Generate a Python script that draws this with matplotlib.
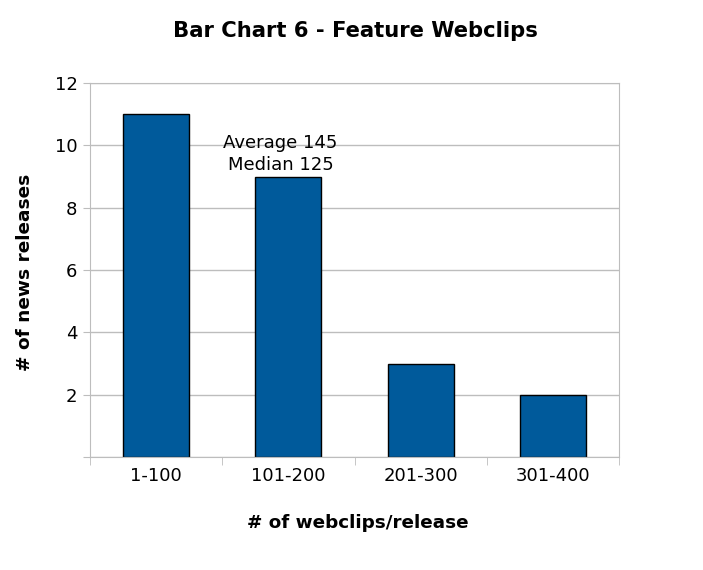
import matplotlib
matplotlib.use('Agg')
import matplotlib.pyplot as plt
import numpy as np

categories = ['1-100', '101-200', '201-300', '301-400']
releases = [11, 9, 3, 2]
note = 'Average 145\nMedian 125'

fig = plt.figure(figsize=(7.03, 5.70), dpi=100)
ax = fig.add_axes([90 / 703, 1 - 457 / 570, 529 / 703, 374 / 570])

index = np.arange(len(categories))
ax.bar(index, releases, 0.5, color='#005a9b', edgecolor='black', linewidth=1, zorder=2)

ax.set_xlim(-0.5, len(categories) - 0.5)
ax.set_ylim(0, 12)
ax.set_yticks([0, 2, 4, 6, 8, 10, 12])
ax.set_yticklabels(['', '2', '4', '6', '8', '10', '12'], fontsize=13)
ax.set_xticks(index)
ax.set_xticklabels(categories, fontsize=13)
ax.set_xticks(np.arange(len(categories) + 1) - 0.5, minor=True)
ax.tick_params(axis='x', which='major', length=0, pad=7)
ax.tick_params(axis='x', which='minor', length=6, color='#bdbdbd', direction='out')
ax.tick_params(axis='y', length=5, color='#bdbdbd', direction='out', pad=4)

ax.grid(axis='y', color='#bdbdbd', linewidth=1, zorder=1)
for s in ax.spines.values():
    s.set_color('#bdbdbd')

ax.text(0.94, 9.72, note, ha='center', va='center', fontsize=13, linespacing=1.3)

fig.text(355 / 703, 1 - 31 / 570, 'Bar Chart 6 - Feature Webclips', ha='center', va='center',
         fontsize=15.2, fontweight='bold')
fig.text(25 / 703, 1 - 272 / 570, '# of news releases', rotation=90, ha='center', va='center',
         fontsize=13.3, fontweight='bold')
fig.text(358 / 703, 1 - 523 / 570, '# of webclips/release', ha='center', va='center',
         fontsize=13.2, fontweight='bold')

fig.savefig('out.png', dpi=100)
